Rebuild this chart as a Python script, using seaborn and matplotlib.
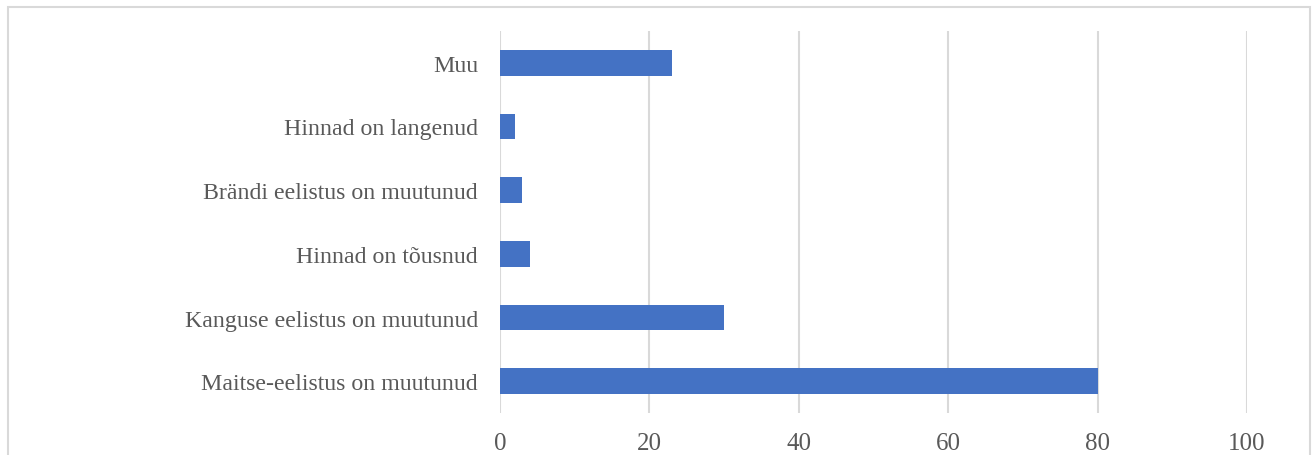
import matplotlib
matplotlib.use("Agg")
import matplotlib.pyplot as plt
import seaborn as sns
import pandas as pd
from matplotlib.patches import Rectangle

categories = [
    "Muu",
    "Hinnad on langenud",
    "Brändi eelistus on muutunud",
    "Hinnad on tõusnud",
    "Kanguse eelistus on muutunud",
    "Maitse-eelistus on muutunud",
]
values = [23, 2, 3, 4, 30, 80]
x_ticks = [0, 20, 40, 60, 80, 100]

df = pd.DataFrame({"category": categories, "value": values})

sns.set_theme(style="white")
plt.rcParams["font.family"] = ["Liberation Serif", "DejaVu Serif"]

fig = plt.figure(figsize=(13.12, 4.56), dpi=100)
ax = fig.add_axes([500 / 1312, 1 - 414 / 456, 747 / 1312, 382 / 456])

sns.barplot(data=df, x="value", y="category", order=categories,
            color="#4472C4", saturation=1, width=0.4, ax=ax, zorder=3,
            edgecolor="none")

ax.set_xlim(0, 100)
ax.set_ylim(5.5, -0.5)
ax.set_xticks(x_ticks)
ax.set_xticklabels([str(t) for t in x_ticks])
ax.xaxis.grid(True, color="#d9d9d9", linewidth=1.5, zorder=0)
ax.yaxis.grid(False)
for s in ax.spines.values():
    s.set_visible(False)
ax.set_xlabel("")
ax.set_ylabel("")
ax.tick_params(axis="x", length=0, pad=14, labelsize=18, labelcolor="#595959")
ax.tick_params(axis="y", length=0, pad=15.8, labelsize=17.2, labelcolor="#595959")

fig.patches.append(Rectangle((8 / 1312, -0.1), 1302 / 1312, 1.1 - 8 / 456,
                             transform=fig.transFigure, fill=False,
                             edgecolor="#d9d9d9", linewidth=1.5))

fig.savefig("out.png", dpi=100)
